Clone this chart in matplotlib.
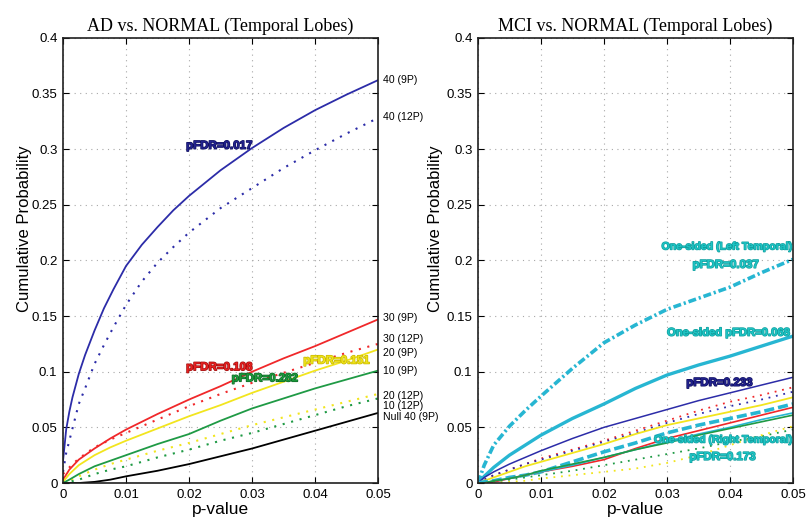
import matplotlib.pyplot as plt
import matplotlib.patheffects as pe

# p-value grid shared by most curves
p = [0, 0.001, 0.0025, 0.005, 0.0075, 0.01, 0.015, 0.02, 0.025, 0.03, 0.035, 0.04, 0.045, 0.05]
# finer grid for the steep 40-subject curves
p_fine = [0, 0.0005, 0.001, 0.0015, 0.0025, 0.0035, 0.005, 0.0065, 0.008, 0.01,
          0.0125, 0.015, 0.0175, 0.02, 0.025, 0.03, 0.035, 0.04, 0.045, 0.05]

# AD vs. NORMAL
ad_40_9p = [0.02, 0.048, 0.064, 0.077, 0.098, 0.115, 0.137, 0.157, 0.174, 0.195,
            0.214, 0.23, 0.245, 0.258, 0.281, 0.301, 0.319, 0.335, 0.349, 0.362]
ad_40_12p = [0.01, 0.027, 0.038, 0.049, 0.071, 0.085, 0.107, 0.124, 0.14, 0.16,
             0.181, 0.198, 0.212, 0.225, 0.247, 0.265, 0.283, 0.299, 0.314, 0.328]
ad_30_9p = [0.003, 0.012, 0.021, 0.031, 0.04, 0.048, 0.062, 0.075, 0.087, 0.1, 0.112, 0.123, 0.135, 0.147]
ad_30_12p = [0.008, 0.014, 0.022, 0.032, 0.039, 0.045, 0.057, 0.069, 0.08, 0.09, 0.099, 0.108, 0.117, 0.125]
ad_20_9p = [0.001, 0.008, 0.016, 0.025, 0.032, 0.038, 0.049, 0.06, 0.07, 0.081, 0.091, 0.101, 0.11, 0.12]
ad_10_9p = [0, 0.003, 0.008, 0.015, 0.02, 0.025, 0.035, 0.044, 0.056, 0.067, 0.076, 0.085, 0.093, 0.101]
ad_20_12p = [0, 0.002, 0.006, 0.012, 0.017, 0.021, 0.029, 0.036, 0.044, 0.052, 0.059, 0.066, 0.073, 0.08]
ad_10_12p = [0, 0.001, 0.003, 0.008, 0.012, 0.015, 0.023, 0.03, 0.038, 0.045, 0.053, 0.061, 0.069, 0.076]
ad_null = [0, 0, 0, 0.001, 0.003, 0.006, 0.011, 0.017, 0.024, 0.031, 0.039, 0.047, 0.055, 0.063]

ad_end_labels = ["40 (9P)", "40 (12P)", "30 (9P)", "30 (12P)", "20 (9P)", "10 (9P)",
                 "20 (12P)", "10 (12P)", "Null 40 (9P)"]
ad_end_y = [0.362, 0.329, 0.148, 0.129, 0.117, 0.101, 0.0785, 0.0695, 0.059]

# MCI vs. NORMAL
mci_left_1s = [0, 0.016, 0.034, 0.051, 0.065, 0.078, 0.103, 0.126, 0.142, 0.156, 0.166, 0.176, 0.189, 0.201]
mci_1s = [0, 0.006, 0.014, 0.025, 0.034, 0.043, 0.058, 0.071, 0.085, 0.097, 0.106, 0.114, 0.123, 0.132]
mci_blue = [0, 0.005, 0.01, 0.017, 0.023, 0.029, 0.04, 0.05, 0.058, 0.066, 0.074, 0.081, 0.088, 0.095]
mci_red_dot = [0, 0.003, 0.007, 0.012, 0.017, 0.022, 0.03, 0.038, 0.047, 0.056, 0.065, 0.073, 0.079, 0.086]
mci_blue_dot = [0, 0.003, 0.007, 0.012, 0.017, 0.021, 0.029, 0.037, 0.045, 0.054, 0.062, 0.069, 0.075, 0.082]
mci_yellow = [0, 0.002, 0.005, 0.01, 0.015, 0.019, 0.027, 0.035, 0.044, 0.052, 0.058, 0.064, 0.07, 0.077]
mci_right_1s = [0, 0.001, 0.002, 0.005, 0.007, 0.01, 0.019, 0.028, 0.036, 0.045, 0.052, 0.058, 0.064, 0.071]
mci_red = [0, 0, 0.001, 0.004, 0.007, 0.01, 0.015, 0.021, 0.031, 0.04, 0.047, 0.054, 0.061, 0.068]
mci_cyan_thin = [0, 0, 0.002, 0.004, 0.007, 0.01, 0.016, 0.023, 0.03, 0.037, 0.044, 0.05, 0.057, 0.063]
mci_green = [0, 0, 0.002, 0.004, 0.007, 0.011, 0.017, 0.023, 0.03, 0.036, 0.043, 0.049, 0.055, 0.061]
mci_green_dot = [0, 0, 0.001, 0.003, 0.005, 0.007, 0.011, 0.016, 0.021, 0.026, 0.031, 0.037, 0.042, 0.048]
mci_yellow_dot = [0, 0, 0, 0.001, 0.002, 0.004, 0.007, 0.01, 0.013, 0.018, 0.025, 0.034, 0.043, 0.051]

NAVY = '#2c2ca8'
RED = '#f0282a'
YELLOW = '#f2e51e'
GREEN = '#1f9a45'
CYAN = '#27b6d2'
CYAN_TXT = '#1ec4c4'
CYAN_EDGE = '#12a0a0'
DOT = (0, (1, 3.2))

plt.rcParams['font.family'] = ['Liberation Sans', 'DejaVu Sans']
narrow = ['Liberation Sans Narrow', 'Liberation Sans']

fig = plt.figure(figsize=(8.08, 5.25), dpi=100)
ax1 = fig.add_axes([0.078, 0.08, 0.39, 0.848])
ax2 = fig.add_axes([0.5915, 0.08, 0.39, 0.848])


def style_axes(ax, title, label_x):
    ax.set_xlim(0, 0.05)
    ax.set_ylim(0, 0.4)
    ax.set_xticks([0, 0.01, 0.02, 0.03, 0.04, 0.05])
    ax.set_xticklabels(['0', '0.01', '0.02', '0.03', '0.04', '0.05'])
    ax.set_yticks([0, 0.05, 0.1, 0.15, 0.2, 0.25, 0.3, 0.35, 0.4])
    ax.set_yticklabels(['0', '0.05', '0.1', '0.15', '0.2', '0.25', '0.3', '0.35', '0.4'])
    ax.tick_params(direction='in', top=True, right=True, length=4, width=0.8,
                   labelsize=9.5, pad=4)
    ax.grid(True, color='#a8a8a8', linestyle=(0, (1, 4)), linewidth=0.8)
    for s in ax.spines.values():
        s.set_linewidth(1.2)
        s.set_color('#202020')
    ax.set_xlabel('p-value', fontsize=12.5, labelpad=1)
    ax.set_ylabel('Cumulative Probability', fontsize=12)
    ax.yaxis.set_label_coords(label_x, 0.572)
    ax.set_title(title, family='Liberation Serif', fontsize=13, pad=5)


def tag(ax, x, y, s, color, edge, size=8.3):
    ax.text(x, y, s, color=color, fontsize=size, fontweight='bold', family=narrow,
            ha='center', va='center',
            path_effects=[pe.withStroke(linewidth=1.0, foreground=edge)])


# left panel
ax1.plot(p_fine, ad_40_9p, color=NAVY, lw=1.3)
ax1.plot(p_fine, ad_40_12p, color=NAVY, lw=1.5, linestyle=DOT)
ax1.plot(p, ad_30_9p, color=RED, lw=1.3)
ax1.plot(p, ad_30_12p, color=RED, lw=1.5, linestyle=DOT)
ax1.plot(p, ad_20_9p, color=YELLOW, lw=1.3)
ax1.plot(p, ad_20_12p, color=YELLOW, lw=1.5, linestyle=DOT)
ax1.plot(p, ad_10_9p, color=GREEN, lw=1.3)
ax1.plot(p, ad_10_12p, color=GREEN, lw=1.5, linestyle=DOT)
ax1.plot(p, ad_null, color='black', lw=1.3)
style_axes(ax1, 'AD vs. NORMAL (Temporal Lobes)', -0.098)

for lab, yv in zip(ad_end_labels, ad_end_y):
    ax1.text(0.0507, yv, lab, fontsize=7.6, ha='left', va='center', clip_on=False)

tag(ax1, 0.0248, 0.303, 'pFDR=0.017', '#22228e', '#101060')
tag(ax1, 0.0248, 0.104, 'pFDR=0.108', '#e82020', '#a01010')
tag(ax1, 0.0434, 0.110, 'pFDR=0.151', '#efe31a', '#c8b800')
tag(ax1, 0.0320, 0.094, 'pFDR=0.282', '#1c9a3c', '#106a28')

# right panel
ax2.plot(p, mci_left_1s, color=CYAN, lw=2.6, linestyle=(0, (2.2, 0.8, 0.6, 0.8)))
ax2.plot(p, mci_1s, color=CYAN, lw=2.4)
ax2.plot(p, mci_blue, color=NAVY, lw=1.1)
ax2.plot(p, mci_red_dot, color=RED, lw=1.3, linestyle=DOT)
ax2.plot(p, mci_blue_dot, color=NAVY, lw=1.3, linestyle=DOT)
ax2.plot(p, mci_yellow, color=YELLOW, lw=1.3)
ax2.plot(p, mci_right_1s, color=CYAN, lw=2.6, linestyle=(0, (2.8, 1.1)))
ax2.plot(p, mci_red, color=RED, lw=1.2)
ax2.plot(p, mci_cyan_thin, color=CYAN, lw=1.2)
ax2.plot(p, mci_green, color=GREEN, lw=1.2)
ax2.plot(p, mci_green_dot, color=GREEN, lw=1.3, linestyle=DOT)
ax2.plot(p, mci_yellow_dot, color=YELLOW, lw=1.3, linestyle=DOT)
style_axes(ax2, 'MCI vs. NORMAL (Temporal Lobes)', -0.111)

tag(ax2, 0.0394, 0.2125, 'One-sided (Left Temporal)', CYAN_TXT, CYAN_EDGE, size=7.6)
tag(ax2, 0.0393, 0.196, 'pFDR=0.037', CYAN_TXT, CYAN_EDGE)
tag(ax2, 0.0398, 0.135, 'One-sided pFDR=0.068', CYAN_TXT, CYAN_EDGE, size=8.1)
tag(ax2, 0.0383, 0.090, 'pFDR=0.233', '#22228e', '#101060')
tag(ax2, 0.0388, 0.039, 'One-sided (Right Temporal)', CYAN_TXT, CYAN_EDGE, size=7.6)
tag(ax2, 0.0388, 0.0234, 'pFDR=0.173', CYAN_TXT, CYAN_EDGE)

fig.savefig('out.png', dpi=100)
